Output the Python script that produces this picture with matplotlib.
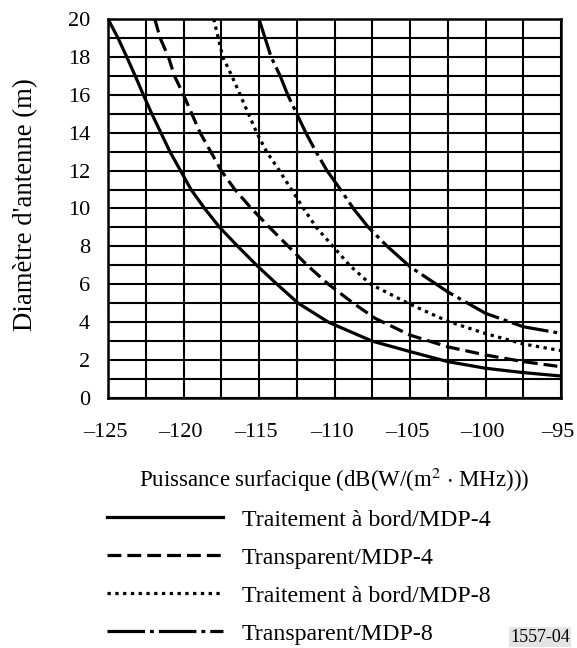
import numpy as np
import matplotlib
matplotlib.use("Agg")
import matplotlib.pyplot as plt
from matplotlib.ticker import MultipleLocator
from matplotlib.transforms import ScaledTranslation

plt.rcParams['font.family'] = ['Liberation Serif', 'DejaVu Serif']
plt.rcParams['mathtext.fontset'] = 'stix'
plt.rcParams['lines.scale_dashes'] = False

# --- valeurs ---
pfd_bord4 = [-125, -124.34, -123.76, -123.2, -122.66, -122.1, -121.5, -120.9, -120.2, -119.5,
             -118.6, -117.6, -116.4, -115.15, -113.8, -112.4, -110.4, -107.5, -105, -102.5,
             -100, -97.5, -95]
d_bord4 = [20, 19, 18, 17, 16, 15, 14, 13, 12, 11,
           10, 9, 8, 7, 6, 5, 4, 3.0, 2.45, 1.92,
           1.57, 1.34, 1.16]

pfd_transp4 = [-121.9, -121.55, -121, -120.6, -120, -119.45, -118.9, -118.2, -117.5, -116.6,
               -115.5, -114.3, -113.05, -111.8, -110.4, -108.75, -107.3, -105, -102.5, -100,
               -97.5, -95]
d_transp4 = [20, 19, 18, 17, 16, 15, 14, 13, 12, 11,
             10, 9, 8, 7, 6, 5, 4.2, 3.32, 2.7, 2.27,
             1.92, 1.65]

pfd_bord8 = [-118, -117.7, -117.4, -116.8, -116.25, -115.7, -115.15, -114.5, -113.65, -112.85,
             -112.05, -111.2, -110.1, -109, -107.6, -105, -102.5, -100, -97.5, -95]
d_bord8 = [20, 19, 18, 17, 16, 15, 14, 13, 12, 11,
           10, 9, 8, 7, 6.0, 4.95, 4.05, 3.4, 2.85, 2.5]

pfd_transp8 = [-115, -114.6, -114.2, -113.6, -113.1, -112.5, -111.9, -111.3, -110.5, -109.6,
               -108.75, -107.75, -106.5, -105, -102.5, -100, -97.5, -95]
d_transp8 = [20, 19, 18, 17, 16, 15, 14, 13.1, 12, 11,
             10, 9, 8, 6.93, 5.6, 4.47, 3.76, 3.41]

labels = ['Traitement à bord/MDP-4', 'Transparent/MDP-4',
          'Traitement à bord/MDP-8', 'Transparent/MDP-8']

fs = 17.2
fig = plt.figure(figsize=(5.77, 6.48), dpi=100)
ax = fig.add_axes([108/577, 1 - 398/648, (561 - 108)/577, (398 - 19)/648])

lw = 2.3
ax.plot(pfd_bord4, d_bord4, color='black', lw=lw, label=labels[0])
ax.plot(pfd_transp4, d_transp4, color='black', lw=lw, dashes=(10, 4.3), label=labels[1])
ax.plot(pfd_bord8, d_bord8, color='black', lw=lw, dashes=(2.4, 3.2), label=labels[2])
ax.plot(pfd_transp8, d_transp8, color='black', lw=lw,
        dashes=(27, 3.6, 2.8, 3.6), label=labels[3])

ax.set_xlim(-125, -95)
ax.set_ylim(0, 20)
ax.xaxis.set_major_locator(MultipleLocator(5))
ax.xaxis.set_minor_locator(MultipleLocator(2.5))
ax.yaxis.set_major_locator(MultipleLocator(2))
ax.yaxis.set_minor_locator(MultipleLocator(1))
ax.set_xticklabels([f'\u2013{abs(int(v))}' for v in ax.get_xticks()])
ax.grid(which='both', color='black', lw=1.5)
ax.set_axisbelow(True)
ax.tick_params(which='both', length=0, labelsize=16)
ax.tick_params(axis='x', pad=18)
ax.tick_params(axis='y', pad=13)
shift = ScaledTranslation(-3/100, 0, fig.dpi_scale_trans)
for t in ax.get_xticklabels():
    t.set_transform(t.get_transform() + shift)
for s in ax.spines.values():
    s.set_linewidth(1.8)

ax.set_ylabel("Diamètre d'antenne (m)", fontsize=19.3)
ax.yaxis.set_label_coords((38 - 108)/453, 0.51)
ax.set_xlabel(r'Puissance surfacique (dB(W/(m$^2$ $\cdot$ MHz)))', fontsize=16.5)
ax.xaxis.set_label_coords(0.5, (398 - 480)/379)
ax.xaxis.label.set_va('center')

ax.legend(loc='upper left', bbox_to_anchor=(107/577, 1 - 509/648),
          bbox_transform=fig.transFigure, frameon=False, fontsize=fs,
          handlelength=4.85, handletextpad=0.8, labelspacing=0.68,
          borderpad=0, borderaxespad=0)

fig.text(570/577, 1 - 637/648, '1557-04', fontsize=13, ha='right', va='center',
         bbox=dict(facecolor='#e4e4e4', edgecolor='none', pad=1))

fig.savefig('out.png', dpi=100)
